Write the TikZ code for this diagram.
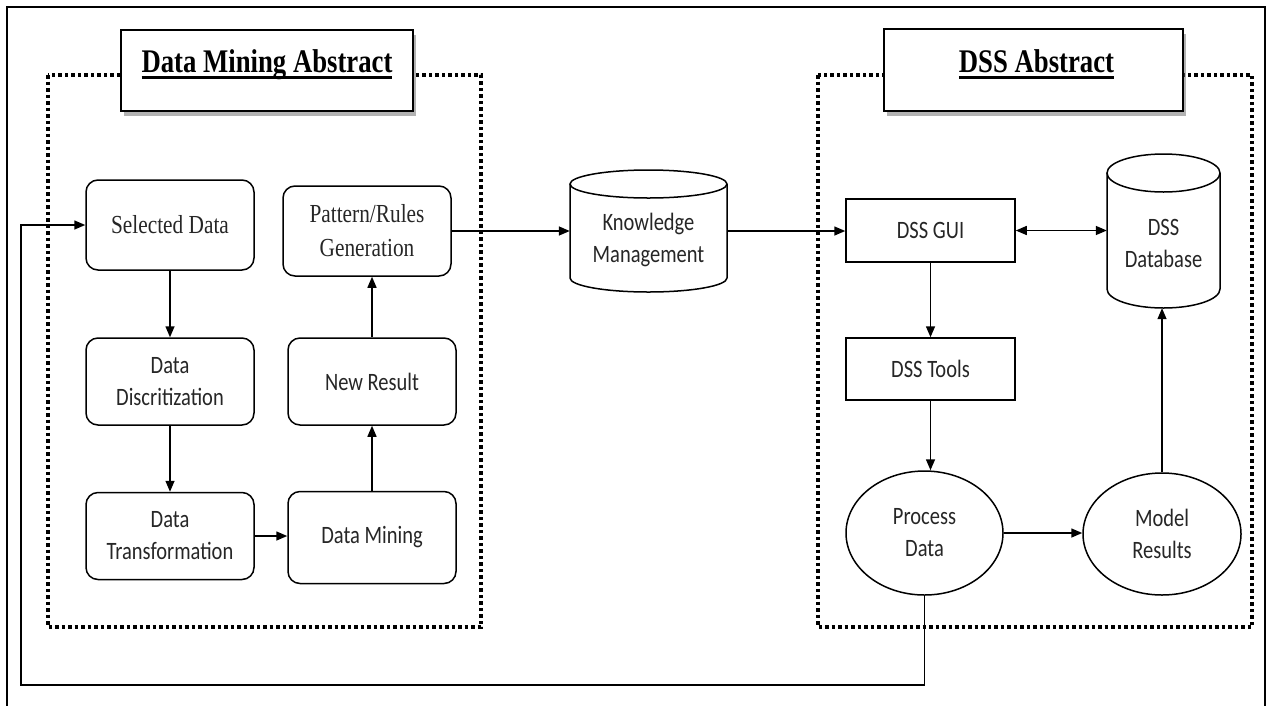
\documentclass[tikz,border=0pt]{standalone}
\usepackage{fontspec}
\setmainfont{Liberation Serif}
\newfontfamily\ttlfont[FakeStretch=0.81]{Liberation Serif}
\newfontfamily\serfont[FakeStretch=0.82]{Liberation Serif}
\newfontfamily\sanfont[FakeStretch=0.82]{Carlito}
\newsavebox\ttlsave
\newcommand\ttlul[1]{\sbox\ttlsave{#1}\rlap{\rule[-6.5pt]{\wd\ttlsave}{2.5pt}}\usebox\ttlsave}
\usetikzlibrary{arrows.meta,shapes.geometric,shadows}

\begin{document}
\begin{tikzpicture}[x=1pt,y=-1pt,
  flow/.style={line width=1.5pt,-{Triangle[length=11pt,width=9pt]}},
  twoway/.style={line width=1.5pt,{Triangle[length=11pt,width=9pt]}-{Triangle[length=11pt,width=9pt]}},
  dotframe/.style={line width=3.5pt,dash pattern=on 3.5pt off 3pt},
  ttlbox/.style={draw,fill=white,line width=2pt,inner sep=0pt,
    drop shadow={shadow xshift=3pt,shadow yshift=-5pt,fill=black!60,opacity=.5}},
  ttltext/.style={anchor=base,inner sep=0pt,font={\ttlfont\bfseries\fontsize{33}{36}\selectfont}},
  rbox/.style={draw,line width=1.5pt,rounded corners=12pt,minimum width=168pt,
    align=center,text=black!85,font={\sanfont\fontsize{25}{32}\selectfont}},
  rserbox/.style={rbox,font={\serfont\fontsize{26}{34}\selectfont}},
  sbox/.style={draw,line width=1.5pt,minimum width=169pt,minimum height=63pt,
    align=center,text=black!85,font={\sanfont\fontsize{25}{32}\selectfont}},
  oval/.style={ellipse,draw,line width=1.5pt,inner sep=0pt,align=center,
    text=black!85,font={\sanfont\fontsize{25}{32}\selectfont}},
  cyltext/.style={align=center,text=black!85,font={\sanfont\fontsize{25}{32}\selectfont}}]
\useasboundingbox (0,0) rectangle (1271,705);

% outer frame
\draw[line width=2.5pt] (7,7) rectangle (1265,712);

% the two abstract areas
\draw[dotframe] (48,75) rectangle (481,627);
\draw[dotframe] (818,75) rectangle (1252,627);
\node[ttlbox,minimum width=292pt,minimum height=81pt] (dmttl) at (267,70.5) {};
\node[ttltext] (dmttltxt) at (267,72) {\ttlul{Data Mining Abstract}};
\node[ttlbox,minimum width=299pt,minimum height=82pt] (dssttl) at (1033.5,70) {};
\node[ttltext] (dssttltxt) at (1036.5,72) {\ttlul{DSS Abstract}};

% data mining side
\node[rserbox,minimum height=90pt] (sel) at (170,225) {Selected Data};
\node[rbox,minimum height=87pt] (disc) at (170,381.5) {Data\\Discritization};
\node[rbox,minimum height=87pt] (trans) at (170,536) {Data\\Transformation};
\node[rbox,minimum height=92pt] (dmin) at (372,537.5) {Data Mining};
\node[rbox,minimum height=87pt] (newr) at (372,381.5) {New Result};
\node[rserbox,minimum height=90pt] (patt) at (367,231) {Pattern/Rules\\Generation};

% knowledge store
\node[minimum width=157pt,minimum height=122pt] (km) at (648.5,231) {};
\draw[line width=1.5pt] (570,184) -- (570,278) arc[start angle=180,end angle=0,x radius=78.5,y radius=14] -- (727,184);
\draw[line width=1.5pt] (648.5,184) ellipse[x radius=78.5,y radius=14];
\node[cyltext] (kmtxt) at (648.5,240) {Knowledge\\Management};

% dss side
\node[sbox] (gui) at (930.5,230.5) {DSS GUI};
\node[sbox,minimum height=62pt] (tools) at (930.5,369) {DSS Tools};
\node[oval,minimum width=157pt,minimum height=124pt] (proc) at (924.5,533) {Process\\Data};
\node[oval,minimum width=158pt,minimum height=122pt] (model) at (1162,534) {Model\\Results};
\node[minimum width=113pt,minimum height=154pt] (db) at (1163.5,231) {};
\draw[line width=1.5pt] (1107,173) -- (1107,289) arc[start angle=180,end angle=0,x radius=56.5,y radius=19] -- (1220,173);
\draw[line width=1.5pt] (1163.5,173) ellipse[x radius=56.5,y radius=19];
\node[cyltext] (dbtxt) at (1163.5,243) {DSS\\Database};

% connectors
\draw[flow] (sel) -- (disc);
\draw[flow] (disc) -- (trans);
\draw[flow] (trans.east) -- (trans.east -| dmin.west);
\draw[flow] (dmin) -- (newr);
\draw[flow] (newr.north) -- (newr.north |- patt.south);
\draw[flow] (patt.east) -- (patt.east -| km.west);
\draw[flow] (km.east) -- (km.east -| gui.west);
\draw[twoway] (gui.east) -- (gui.east -| db.west);
\draw[flow] (gui.south) -- (tools.north);
\draw[flow] (tools.south) -- (tools.south |- proc.north);
\draw[flow] (proc.east) -- (proc.east -| model.west);
\draw[flow] (model.north) -- (model.north |- db.south);
\coordinate (fbk) at (21,685);
\draw[flow] (proc.south) |- (fbk) |- (sel.west);
\end{tikzpicture}
\end{document}
